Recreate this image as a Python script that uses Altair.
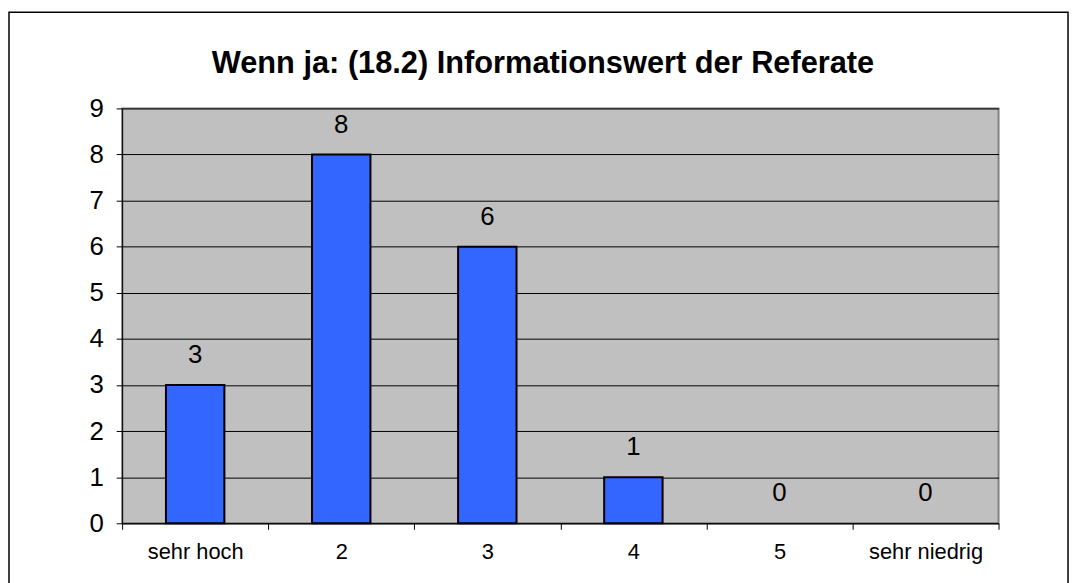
import altair as alt
import pandas as pd

categories = ["sehr hoch", "2", "3", "4", "5", "sehr niedrig"]
values = [3, 8, 6, 1, 0, 0]
y_ticks = [0, 1, 2, 3, 4, 5, 6, 7, 8, 9]
title_text = "Wenn ja: (18.2) Informationswert der Referate"

df = pd.DataFrame({"cat": categories, "val": values})

W, H = 883, 418
FONT = "Liberation Sans"

x_enc = alt.X(
    "cat:N",
    sort=categories,
    title=None,
    scale=alt.Scale(paddingInner=0, paddingOuter=0),
    axis=alt.Axis(
        labelAngle=0,
        labelFontSize=22,
        labelFont=FONT,
        labelColor="black",
        labelPadding=12,
        tickBand="extent",
        tickSize=6,
        tickColor="black",
        domainColor="black",
        domainWidth=1,
        grid=False,
    ),
)
y_enc = alt.Y(
    "val:Q",
    title=None,
    scale=alt.Scale(domain=[0, 9], nice=False),
    axis=alt.Axis(
        values=y_ticks,
        labelFontSize=26,
        labelFont=FONT,
        labelColor="black",
        labelPadding=13,
        tickSize=6,
        tickColor="black",
        domainColor="black",
        grid=True,
        gridColor="black",
        gridWidth=1,
    ),
)

bars = alt.Chart(df).mark_bar(
    width=alt.RelativeBandSize(0.4),
    color="#3366FF",
    strokeWidth=2,
).encode(
    x=x_enc,
    y=y_enc,
    stroke=alt.condition(alt.datum.val > 0, alt.value("black"), alt.value("transparent")),
)

labels = alt.Chart(df).mark_text(
    dy=-30, fontSize=26, font=FONT, color="black", baseline="middle"
).encode(
    x=alt.X("cat:N", sort=categories),
    y=alt.Y("val:Q"),
    text="val:Q",
)

one = pd.DataFrame({"t": [title_text]})

title = alt.Chart(one).mark_text(
    font=FONT, fontSize=31, fontWeight="bold", color="black",
    baseline="alphabetic", align="center",
).encode(
    x=alt.value(424), y=alt.value(-36), text="t:N"
)

border = alt.Chart(one).mark_rect(
    fill=None, stroke="black", strokeWidth=1.5
).encode(
    x=alt.value(-114), x2=alt.value(W + 70), y=alt.value(-97), y2=alt.value(H + 80)
)

chart = alt.layer(bars, labels, title, border).properties(
    width=W,
    height=H,
    padding={"left": 115, "top": 99, "right": 73, "bottom": 58},
    autosize=alt.AutoSizeParams(type="none"),
).configure(
    background="white",
    view=alt.ViewConfig(fill="#C0C0C0", stroke="#808080", strokeWidth=2),
)

chart.save("out.html", embed_options={"renderer": "svg", "actions": False})
